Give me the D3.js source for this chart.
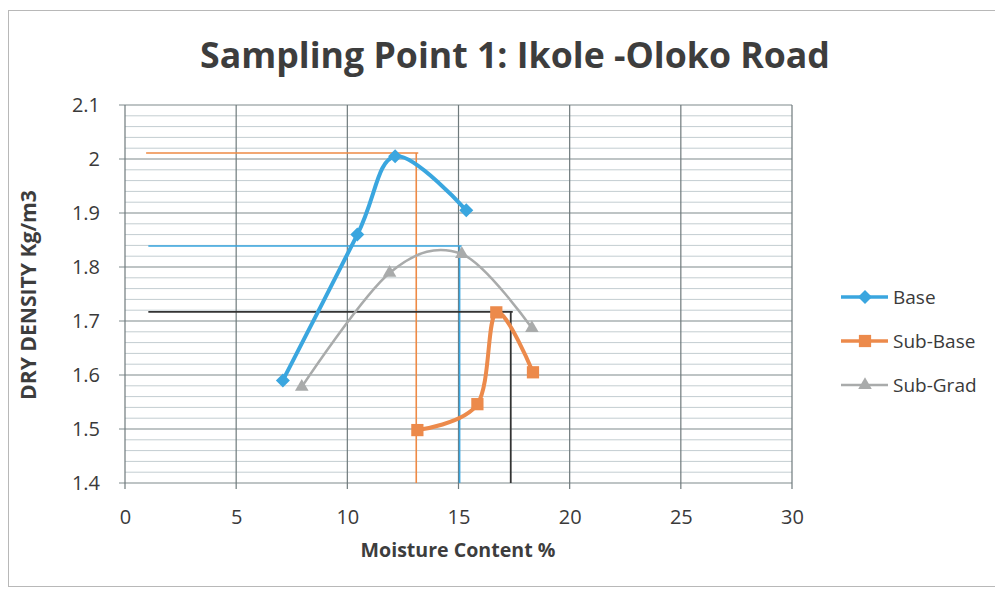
<!DOCTYPE html>
<html>
<head>
<meta charset="utf-8">
<script src="https://cdn.jsdelivr.net/npm/d3@7"></script>
<style>
  body { margin: 0; background: #fff; }
  svg { display: block; font-family: "Open Sans", "Noto Sans", sans-serif; }
</style>
</head>
<body>
<svg id="chart" width="995" height="591"></svg>
<script>
const title = 'Sampling Point 1: Ikole -Oloko Road';
const xTicks = [0, 5, 10, 15, 20, 25, 30];
const yTicks = [1.4, 1.5, 1.6, 1.7, 1.8, 1.9, 2.0, 2.1];

const baseMoisture = [7.1, 10.45, 12.15, 15.35];
const baseDensity = [1.59, 1.86, 2.005, 1.905];
const subBaseMoisture = [13.15, 15.85, 16.7, 18.35];
const subBaseDensity = [1.498, 1.546, 1.716, 1.605];
const subGradMoisture = [7.95, 11.9, 15.15, 18.3];
const subGradDensity = [1.578, 1.789, 1.824, 1.687];

// hand-drawn guide lines
const guideNames = ['Sub-Base', 'Base', 'Sub-Grad'];
const guideDensity = [2.011, 1.839, 1.717];
const guideMoisture = [13.1, 15.05, 17.35];
const guideStart = [0.95, 1.05, 1.05];

const series = [
  { name: 'Base', xs: baseMoisture, ys: baseDensity, color: '#3aa6df', width: 4, marker: 'diamond' },
  { name: 'Sub-Base', xs: subBaseMoisture, ys: subBaseDensity, color: '#ec8a4b', width: 4, marker: 'square' },
  { name: 'Sub-Grad', xs: subGradMoisture, ys: subGradDensity, color: '#a9abab', width: 2.5, marker: 'triangle' },
];
const guideColor = { 'Sub-Base': '#ee8a45', 'Base': '#3aa6df', 'Sub-Grad': '#333333' };

const svg = d3.select('#chart');
const plot = { left: 125, right: 792, top: 105, bottom: 483 };

const x = d3.scaleLinear().domain([0, 30]).range([plot.left, plot.right]);
const y = d3.scaleLinear().domain([1.4, 2.1]).range([plot.bottom, plot.top]);

// outer chart frame
svg.append('rect')
  .attr('x', 8.5).attr('y', 10.5)
  .attr('width', 1000).attr('height', 576)
  .attr('fill', 'none').attr('stroke', '#b8b8b8').attr('stroke-width', 1);

// minor horizontal grid
const minor = d3.range(1.42, 2.1, 0.02).filter((v) => Math.abs(v * 10 - Math.round(v * 10)) > 0.01);
svg.append('g')
  .selectAll('line')
  .data(minor)
  .join('line')
  .attr('x1', plot.left).attr('x2', plot.right)
  .attr('y1', (d) => y(d)).attr('y2', (d) => y(d))
  .attr('stroke', '#c3cdd1').attr('stroke-width', 1);

// major horizontal grid
svg.append('g')
  .selectAll('line')
  .data(yTicks)
  .join('line')
  .attr('x1', plot.left - 6).attr('x2', plot.right)
  .attr('y1', (d) => y(d)).attr('y2', (d) => y(d))
  .attr('stroke', '#7f8a8c').attr('stroke-width', 1.2);

// vertical grid
svg.append('g')
  .selectAll('line')
  .data(xTicks)
  .join('line')
  .attr('x1', (d) => x(d)).attr('x2', (d) => x(d))
  .attr('y1', plot.top).attr('y2', plot.bottom + 6)
  .attr('stroke', '#6f7a7c').attr('stroke-width', 1.2);

// axes labels
const xAxis = d3.axisBottom(x).tickValues(xTicks).tickSize(0).tickPadding(27);
svg.append('g')
  .attr('transform', `translate(0,${plot.bottom})`)
  .call(xAxis)
  .call((g) => g.select('.domain').remove())
  .selectAll('text')
  .attr('font-size', 20).attr('fill', '#3a3a3a')
  .attr('font-family', '"Open Sans", sans-serif');

const yAxis = d3.axisLeft(y).tickValues(yTicks).tickSize(0).tickPadding(25)
  .tickFormat((d) => d3.format('')(+d.toFixed(1)));
svg.append('g')
  .attr('transform', `translate(${plot.left},0)`)
  .call(yAxis)
  .call((g) => g.select('.domain').remove())
  .selectAll('text')
  .attr('font-size', 20).attr('fill', '#3a3a3a')
  .attr('font-family', '"Open Sans", sans-serif');

// guide lines
guideNames.forEach((name, i) => {
  const gx = x(guideMoisture[i]);
  const gy = y(guideDensity[i]);
  svg.append('path')
    .attr('d', `M${x(guideStart[i])},${gy}H${gx + 2}M${gx},${gy}V${plot.bottom}`)
    .attr('fill', 'none')
    .attr('stroke', guideColor[name])
    .attr('stroke-width', name === 'Sub-Grad' ? 1.8 : 1.6);
});

// series lines
const line = d3.line()
  .x((d) => x(d[0]))
  .y((d) => y(d[1]))
  .curve(d3.curveCatmullRom.alpha(0));

const markerPath = (type) => {
  if (type === 'diamond') return 'M0,-7L7,0L0,7L-7,0Z';
  if (type === 'square') return d3.symbol(d3.symbolSquare, 150)();
  return d3.symbol(d3.symbolTriangle, 80)();
};

series.forEach((s) => {
  const pts = s.xs.map((v, i) => [v, s.ys[i]]);
  svg.append('path')
    .datum(pts)
    .attr('d', line)
    .attr('fill', 'none')
    .attr('stroke', s.color)
    .attr('stroke-width', s.width)
    .attr('stroke-linejoin', 'round');
  svg.append('g')
    .selectAll('path')
    .data(pts)
    .join('path')
    .attr('d', markerPath(s.marker))
    .attr('transform', (d) => `translate(${x(d[0])},${y(d[1])})`)
    .attr('fill', s.color);
});

// legend
const legend = svg.append('g').attr('transform', 'translate(841,297)');
series.forEach((s, i) => {
  const row = legend.append('g').attr('transform', `translate(0,${i * 44})`);
  row.append('line')
    .attr('x1', 0).attr('x2', 47)
    .attr('stroke', s.color).attr('stroke-width', s.width === 4 ? 3.5 : 2.5);
  row.append('path')
    .attr('d', markerPath(s.marker))
    .attr('transform', 'translate(24,0)')
    .attr('fill', s.color);
  row.append('text')
    .attr('x', 52).attr('y', 7)
    .attr('font-size', 19).attr('fill', '#3a3a3a')
    .text(s.name);
});

// titles
const fitText = (sel, target) => {
  const w = sel.node().getComputedTextLength();
  const fs = parseFloat(sel.attr('font-size'));
  sel.attr('font-size', fs * target / w);
};

const t = svg.append('text')
  .attr('x', 515).attr('y', 68)
  .attr('text-anchor', 'middle')
  .attr('font-size', 30).attr('font-weight', 'bold')
  .attr('fill', '#3d3d3d')
  .text(title);
fitText(t, 630);

const xt = svg.append('text')
  .attr('x', 458).attr('y', 557)
  .attr('text-anchor', 'middle')
  .attr('font-size', 15).attr('font-weight', 'bold')
  .attr('fill', '#3d3d3d')
  .text('Moisture Content %');
fitText(xt, 195);

const yt = svg.append('text')
  .attr('transform', 'translate(36,295) rotate(-90)')
  .attr('text-anchor', 'middle')
  .attr('font-size', 15).attr('font-weight', 'bold')
  .attr('fill', '#3d3d3d')
  .text('DRY DENSITY Kg/m3');
fitText(yt, 210);
</script>
</body>
</html>
